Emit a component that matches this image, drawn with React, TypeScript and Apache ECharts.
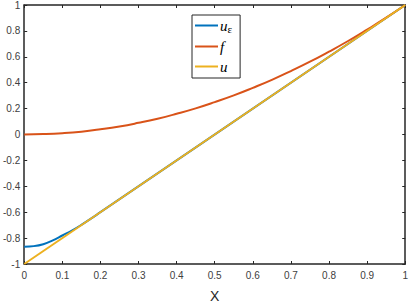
import React, { useEffect, useRef } from "react";
import * as echarts from "echarts";

const fX = [0, 0.05, 0.1, 0.15, 0.2, 0.25, 0.3, 0.35, 0.4, 0.45, 0.5, 0.55, 0.6, 0.65, 0.7, 0.75, 0.8, 0.85, 0.9, 0.95, 1];
const fY = [0, 0.003, 0.01, 0.022, 0.04, 0.062, 0.09, 0.122, 0.16, 0.202, 0.25, 0.302, 0.36, 0.422, 0.49, 0.562, 0.64, 0.722, 0.81, 0.902, 1];
const uEpsX = [0, 0.025, 0.05, 0.075, 0.1, 0.125, 0.15, 0.175, 0.2, 1];
const uEpsY = [-0.866, -0.862, -0.847, -0.818, -0.78, -0.742, -0.698, -0.65, -0.6, 1];
const uX = [0, 1];
const uY = [-1, 1];
const seriesNames = ["uε", "f", "u"];
const colors = ["#0072BD", "#D95319", "#EDB120"];

export default function App() {
  const ref = useRef<HTMLDivElement>(null);
  useEffect(() => {
    const chart = echarts.init(ref.current!, null, { renderer: "svg" });
    const axisColor = "#262626";
    const labelStyle = { color: "#404040", fontSize: 10, fontFamily: "Liberation Sans, Arial, sans-serif" };
    const zip = (xs: number[], ys: number[]) => xs.map((x, i) => [x, ys[i]]);
    chart.setOption({
      animation: false,
      grid: { left: 21, right: 4, top: 5, bottom: 42 },
      xAxis: [
        {
          type: "value", min: 0, max: 1, interval: 0.1, position: "bottom",
          name: "X", nameLocation: "middle", nameGap: 25,
          nameTextStyle: { color: "#262626", fontSize: 14, fontFamily: "Liberation Sans, Arial, sans-serif" },
          axisLine: { show: true, onZero: false, lineStyle: { color: axisColor, width: 1.5 } },
          axisTick: { show: true, inside: true, length: 3, lineStyle: { color: axisColor } },
          axisLabel: { ...labelStyle, margin: 6, formatter: (v: number) => String(Math.round(v * 10) / 10) },
          splitLine: { show: false },
        },
        {
          type: "value", min: 0, max: 1, interval: 0.1, position: "top",
          axisLine: { show: true, onZero: false, lineStyle: { color: axisColor, width: 1.5 } },
          axisTick: { show: true, inside: true, length: 3, lineStyle: { color: axisColor } },
          axisLabel: { show: false },
          splitLine: { show: false },
        },
      ],
      yAxis: [
        {
          type: "value", min: -1, max: 1, interval: 0.2, position: "left",
          axisLine: { show: true, onZero: false, lineStyle: { color: axisColor, width: 1.5 } },
          axisTick: { show: true, inside: true, length: 3, lineStyle: { color: axisColor } },
          axisLabel: { ...labelStyle, margin: 4, formatter: (v: number) => String(Math.round(v * 10) / 10) },
          splitLine: { show: false },
        },
        {
          type: "value", min: -1, max: 1, interval: 0.2, position: "right",
          axisLine: { show: true, onZero: false, lineStyle: { color: axisColor, width: 1.5 } },
          axisTick: { show: true, inside: true, length: 3, lineStyle: { color: axisColor } },
          axisLabel: { show: false },
          splitLine: { show: false },
        },
      ],
      legend: {
        orient: "vertical",
        left: 192,
        top: 15,
        data: seriesNames,
        backgroundColor: "#fff",
        borderColor: "#262626",
        borderWidth: 1,
        padding: [3, 8, 4, 3],
        itemGap: 5,
        itemWidth: 23,
        itemHeight: 2,
        icon: "rect",
        formatter: (name: string) => (name === "uε" ? "{i|u}{s|ε}" : "{i|" + name + "}"),
        textStyle: {
          padding: [0, 0, 0, -3],
          rich: {
            i: { fontFamily: "Liberation Serif, serif", fontStyle: "italic", fontSize: 15, color: "#000", lineHeight: 15 },
            s: { fontFamily: "Liberation Serif, serif", fontSize: 11, color: "#000", padding: [6, 0, 0, 0] },
          },
        },
      },
      series: [
        { name: seriesNames[0], type: "line", data: zip(uEpsX, uEpsY), smooth: 0.4, showSymbol: false, lineStyle: { color: colors[0], width: 2 }, itemStyle: { color: colors[0] } },
        { name: seriesNames[1], type: "line", data: zip(fX, fY), smooth: true, showSymbol: false, lineStyle: { color: colors[1], width: 2 }, itemStyle: { color: colors[1] } },
        { name: seriesNames[2], type: "line", data: zip(uX, uY), showSymbol: false, lineStyle: { color: colors[2], width: 2 }, itemStyle: { color: colors[2] } },
      ],
    });
    return () => chart.dispose();
  }, []);
  return <div ref={ref} style={{ width: 411, height: 308, position: "absolute", left: 0, top: 0 }} />;
}
